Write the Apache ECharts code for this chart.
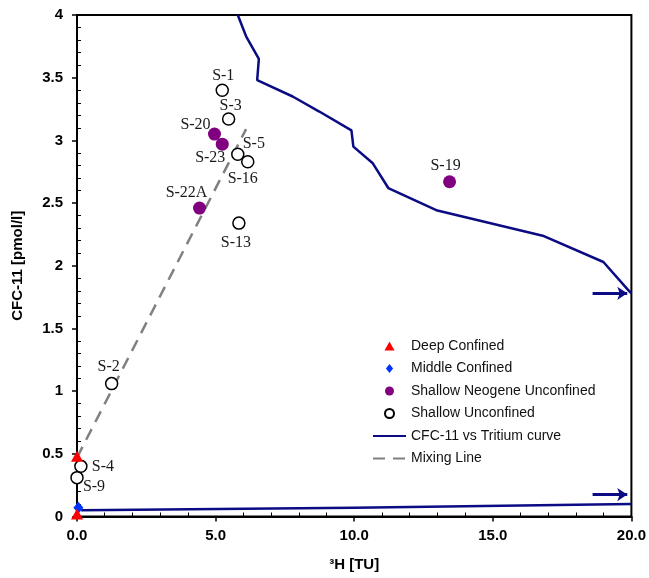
<!DOCTYPE html>
<html>
<head>
<meta charset="utf-8">
<script src="https://cdn.jsdelivr.net/npm/echarts@6/dist/echarts.min.js"></script>
<style>
  html, body { margin: 0; padding: 0; background: #fff; }
  #chart { width: 649px; height: 578px; }
</style>
</head>
<body>
<div id="chart"></div>
<script>
// sample data
const deepH3 = [0.0, 0.0];
const deepCFC = [0.48, 0.02];

const middleH3 = [0.05];
const middleCFC = [0.07];

const neogeneSites = ['S-20', 'S-23', 'S-22A', 'S-19'];
const neogeneH3 = [4.96, 5.24, 4.42, 13.44];
const neogeneCFC = [3.05, 2.97, 2.46, 2.67];

const shallowSites = ['S-1', 'S-3', 'S-5', 'S-16', 'S-13', 'S-2', 'S-4', 'S-9'];
const shallowH3 = [5.24, 5.47, 5.80, 6.16, 5.84, 1.25, 0.14, 0.0];
const shallowCFC = [3.40, 3.17, 2.89, 2.83, 2.34, 1.06, 0.40, 0.31];

// CFC-11 vs tritium input curve (upper branch and lower branch)
const curveH3 = [5.80, 6.10, 6.56, 6.50, 7.78, 8.74, 9.90, 9.97, 10.66, 11.23, 13.00, 16.80, 18.99, 19.87, 20.0];
const curveCFC = [4.00, 3.83, 3.65, 3.48, 3.35, 3.23, 3.08, 2.95, 2.82, 2.62, 2.44, 2.24, 2.03, 1.81, 1.78];
const lowerH3 = [0.15, 10.0, 20.0];
const lowerCFC = [0.05, 0.07, 0.10];

const mixH3 = [0.0, 6.1];
const mixCFC = [0.47, 3.09];

// arrows at the right edge
const arrowCFC = [1.78, 0.175];
const arrowFrom = 18.6;
const arrowTo = 19.85;

const xTicks = [0, 5, 10, 15, 20];

// label placement (px offsets from the marker)
const labelOffsets = {
  'S-1': [1, -14], 'S-3': [2, -13], 'S-20': [-19, -9], 'S-23': [-12, 14],
  'S-5': [16, -10], 'S-16': [-5, 17], 'S-22A': [-13, -15], 'S-13': [-3, 20],
  'S-19': [-4, -16], 'S-2': [-3, -17], 'S-4': [22, 0], 'S-9': [17, 9]
};

const NAVY = '#0b0b84';
const axisFont = { fontFamily: 'Liberation Sans', fontWeight: 'bold', fontSize: 15, color: '#000' };

function pairs(xs, ys) {
  return xs.map((x, i) => [x, ys[i]]);
}

function labelled(names, xs, ys) {
  return names.map((n, i) => ({
    value: [xs[i], ys[i]],
    name: n,
    label: { offset: labelOffsets[n] }
  }));
}

const siteLabel = {
  show: true,
  position: 'inside',
  formatter: p => p.name,
  fontFamily: 'Liberation Serif',
  fontSize: 16,
  color: '#1a1a1a'
};

// second (silent) axis only carries the inward minor ticks
function minorAxis(base) {
  return Object.assign({}, base, {
    name: '',
    axisLine: { show: false },
    axisTick: { show: false },
    axisLabel: { show: false },
    splitLine: { show: false },
    minorTick: { show: true, splitNumber: 5, length: 4, lineStyle: { color: '#000', width: 1 } }
  });
}

const xBase = {
  type: 'value', min: 0, max: 20, interval: 5,
  axisTick: { inside: true }
};
const yBase = {
  type: 'value', min: 0, max: 4, interval: 0.5,
  axisTick: { inside: true }
};

const chart = echarts.init(document.getElementById('chart'));

chart.setOption({
  animation: false,
  grid: {
    left: 77, right: 16, top: 15, bottom: 61.5,
    show: true, borderColor: '#000', borderWidth: 2
  },
  legend: {
    orient: 'vertical',
    left: 367, top: 334,
    itemWidth: 33, itemHeight: 9, itemGap: 8.5,
    textStyle: { fontFamily: 'Liberation Sans', fontSize: 14, color: '#111', lineHeight: 14 },
    data: [
      { name: 'Deep Confined', icon: 'path://M5,0L10,9L0,9Z' },
      { name: 'Middle Confined', icon: 'path://M4,0L8,5L4,10L0,5Z' },
      { name: 'Shallow Neogene Unconfined', icon: 'circle' },
      { name: 'Shallow Unconfined', icon: 'circle' },
      { name: 'CFC-11 vs Tritium curve', itemStyle: { opacity: 0 } },
      { name: 'Mixing Line', itemStyle: { opacity: 0 } }
    ]
  },
  xAxis: [
    {
      type: 'value', min: 0, max: 20, interval: 5,
      name: '³H [TU]',
      nameLocation: 'middle',
      nameGap: 41,
      nameTextStyle: axisFont,
      axisLine: { show: true, onZero: false, lineStyle: { color: '#000', width: 2 } },
      axisTick: { show: true, inside: false, length: 5, lineStyle: { color: '#000', width: 1.5 } },
      minorTick: { show: false },
      splitLine: { show: false },
      axisLabel: Object.assign({ margin: 12, formatter: v => xTicks.includes(v) ? v.toFixed(1) : '' }, axisFont)
    },
    minorAxis(xBase)
  ],
  yAxis: [
    {
      type: 'value', min: 0, max: 4, interval: 0.5,
      name: 'CFC-11 [pmol/l]',
      nameLocation: 'middle',
      nameGap: 52,
      nameTextStyle: axisFont,
      axisLine: { show: true, onZero: false, lineStyle: { color: '#000', width: 2 } },
      axisTick: { show: true, inside: false, length: 5, lineStyle: { color: '#000', width: 1.5 } },
      minorTick: { show: false },
      splitLine: { show: false },
      axisLabel: Object.assign({ margin: 14 }, axisFont)
    },
    minorAxis(yBase)
  ],
  series: [
    {
      name: 'CFC-11 vs Tritium curve',
      type: 'line',
      data: pairs(curveH3, curveCFC),
      symbol: 'none',
      lineStyle: { color: NAVY, width: 2.5 },
      itemStyle: { color: NAVY },
      z: 2
    },
    {
      name: 'CFC-11 vs Tritium curve',
      type: 'line',
      data: pairs(lowerH3, lowerCFC),
      symbol: 'none',
      smooth: true,
      lineStyle: { color: NAVY, width: 2.5 },
      itemStyle: { color: NAVY },
      z: 2
    },
    {
      name: 'Mixing Line',
      type: 'line',
      data: pairs(mixH3, mixCFC),
      symbol: 'none',
      lineStyle: { color: '#808080', width: 2.5, type: [12, 8] },
      itemStyle: { color: '#808080' },
      z: 2
    },
    {
      type: 'lines',
      coordinateSystem: 'cartesian2d',
      data: arrowCFC.map(y => ({ coords: [[arrowFrom, y], [arrowTo, y]] })),
      symbol: ['none', 'arrow'],
      symbolSize: 10,
      lineStyle: { color: NAVY, width: 3, opacity: 1 },
      silent: true,
      z: 3
    },
    {
      name: 'Shallow Unconfined',
      type: 'scatter',
      data: labelled(shallowSites, shallowH3, shallowCFC),
      symbol: 'circle',
      symbolSize: 12,
      itemStyle: { color: '#fff', borderColor: '#000', borderWidth: 1.5, opacity: 1 },
      label: siteLabel,
      z: 4
    },
    {
      name: 'Shallow Neogene Unconfined',
      type: 'scatter',
      data: labelled(neogeneSites, neogeneH3, neogeneCFC),
      symbol: 'circle',
      symbolSize: 13,
      itemStyle: { color: '#800080', opacity: 1 },
      label: siteLabel,
      z: 5
    },
    {
      name: 'Middle Confined',
      type: 'scatter',
      data: pairs(middleH3, middleCFC),
      symbol: 'diamond',
      symbolSize: [10, 12],
      itemStyle: { color: '#0033ff', opacity: 1 },
      z: 6
    },
    {
      name: 'Deep Confined',
      type: 'scatter',
      data: pairs(deepH3, deepCFC),
      symbol: 'triangle',
      symbolSize: [12, 11],
      itemStyle: { color: '#ff0000', opacity: 1 },
      z: 6
    }
  ]
});
</script>
</body>
</html>
